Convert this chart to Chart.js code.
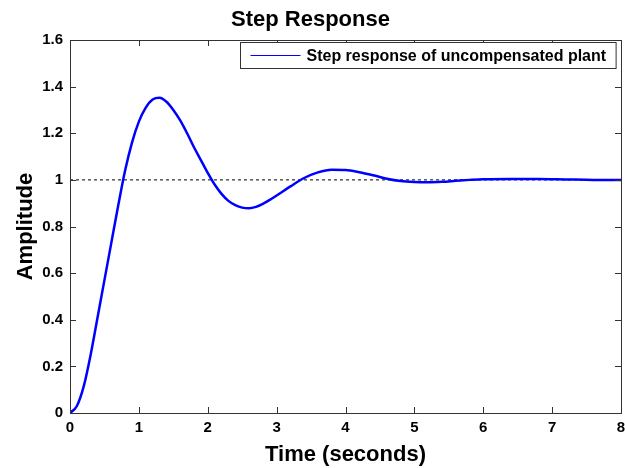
<!DOCTYPE html>
<html>
<head>
<meta charset="utf-8">
<script src="https://cdn.jsdelivr.net/npm/chart.js@4"></script>
<style>
  html, body { margin: 0; padding: 0; background: #fff; }
  #wrap { width: 625px; height: 468px; }
</style>
</head>
<body>
<div id="wrap"><canvas id="chart" width="625" height="468"></canvas></div>
<script>
'use strict';
// ---------- Step response of uncompensated plant ----------

const timeSec = [0, 0.1, 0.2, 0.3, 0.4, 0.5, 0.6, 0.7, 0.8, 0.9, 1.0, 1.1, 1.2, 1.3, 1.4,
                 1.5, 1.6, 1.7, 1.8, 1.9, 2.0, 2.1, 2.2, 2.3, 2.4, 2.5, 2.6, 2.7, 2.8, 2.9,
                 3.0, 3.2, 3.4, 3.6, 3.8, 4.0, 4.2, 4.4, 4.6, 4.8, 5.0, 5.2, 5.4, 5.6, 5.8,
                 6.0, 6.4, 6.8, 7.2, 7.6, 8.0];
const amplitude = [0, 0.03, 0.115, 0.25, 0.41, 0.57, 0.73, 0.89, 1.04, 1.16, 1.25, 1.31, 1.345, 1.352, 1.335,
                   1.3, 1.255, 1.2, 1.14, 1.085, 1.03, 0.98, 0.94, 0.91, 0.892, 0.881, 0.878, 0.884, 0.897, 0.914,
                   0.933, 0.972, 1.008, 1.032, 1.043, 1.042, 1.033, 1.02, 1.005, 0.995, 0.991, 0.99, 0.992, 0.996, 1.0,
                   1.003, 1.004, 1.004, 1.002, 1.0, 1.0];

const refTime  = [0, 8];
const refLevel = [1, 1];

const seriesLabel = 'Step response of uncompensated plant';
const FONT = '"Liberation Sans", Arial, sans-serif';
const AXIS = '#333333';

const toPts = (xs, ys) => xs.map((x, i) => ({ x, y: ys[i] }));
const fmtTick = v => String(Number(v.toFixed(1)));

// MATLAB-style frame: box round the axes, ticks pointing inward on all sides
const framePlugin = {
    id: 'frame',
    afterDatasetsDraw(chart) {
        const { ctx, chartArea: a, scales } = chart;
        ctx.save();
        ctx.strokeStyle = AXIS;
        ctx.lineWidth = 1;
        ctx.beginPath();
        const len = 6;
        scales.x.ticks.forEach(t => {
            const px = Math.round(scales.x.getPixelForValue(t.value)) + 0.5;
            ctx.moveTo(px, a.bottom); ctx.lineTo(px, a.bottom - len);
            ctx.moveTo(px, a.top);    ctx.lineTo(px, a.top + len);
        });
        scales.y.ticks.forEach(t => {
            const py = Math.round(scales.y.getPixelForValue(t.value)) + 0.5;
            ctx.moveTo(a.left, py);  ctx.lineTo(a.left + len, py);
            ctx.moveTo(a.right, py); ctx.lineTo(a.right - len, py);
        });
        ctx.stroke();
        ctx.strokeRect(Math.round(a.left) + 0.5, Math.round(a.top) + 0.5,
                       Math.round(a.right - a.left), Math.round(a.bottom - a.top));
        ctx.restore();
    },
};

// Boxed legend inside the top-right corner of the axes
const boxLegendPlugin = {
    id: 'boxLegend',
    afterDraw(chart) {
        const { ctx, chartArea: a } = chart;
        const ds = chart.data.datasets[0];
        ctx.save();
        ctx.font = 'bold 16px ' + FONT;
        const tw = ctx.measureText(ds.label).width;
        const w = 10 + 50 + 6 + tw + 10;
        const h = 26;
        const x0 = Math.round(a.right - 5 - w) + 0.5;
        const y0 = Math.round(a.top + 2) + 0.5;
        ctx.fillStyle = '#fff';
        ctx.fillRect(x0, y0, w, h);
        ctx.strokeStyle = AXIS;
        ctx.lineWidth = 1;
        ctx.strokeRect(x0, y0, w, h);
        const my = y0 + h / 2;
        ctx.strokeStyle = ds.borderColor;
        ctx.beginPath();
        ctx.moveTo(x0 + 10, my); ctx.lineTo(x0 + 60, my);
        ctx.stroke();
        ctx.fillStyle = '#000';
        ctx.textBaseline = 'middle';
        ctx.fillText(ds.label, x0 + 66, my + 1);
        ctx.restore();
    },
};

new Chart(document.getElementById('chart'), {
    type: 'line',
    data: {
        datasets: [
            {
                label: seriesLabel,
                data: toPts(timeSec, amplitude),
                borderColor: '#0000ff',
                borderWidth: 2.5,
                pointRadius: 0,
                cubicInterpolationMode: 'monotone',
                fill: false,
            },
            {
                label: 'reference',
                data: toPts(refTime, refLevel),
                borderColor: '#000000',
                borderWidth: 1,
                borderDash: [3, 3],
                pointRadius: 0,
                fill: false,
            },
        ],
    },
    options: {
        responsive: false,
        animation: false,
        layout: { padding: { left: 0, right: 4, top: 0, bottom: 0 } },
        plugins: {
            legend: { display: false },
            tooltip: { enabled: false },
            title: {
                display: true,
                text: 'Step Response',
                color: '#000',
                font: { family: FONT, size: 22, weight: 'bold', lineHeight: 1.2 },
                padding: { top: 7, bottom: 6.6 },
            },
        },
        scales: {
            x: {
                type: 'linear',
                min: 0, max: 8,
                afterFit: s => { s.height = 55; s.paddingLeft = 0; s.paddingRight = 0; },
                grid: { display: false, drawTicks: false },
                border: { display: true, color: AXIS },
                ticks: {
                    stepSize: 1,
                    padding: 6,
                    color: '#000',
                    maxRotation: 0,
                    font: { family: FONT, size: 15, weight: 'bold' },
                },
                title: {
                    display: true,
                    text: 'Time (seconds)',
                    color: '#000',
                    font: { family: FONT, size: 22, weight: 'bold', lineHeight: 1.2 },
                    padding: { top: 1, bottom: 0 },
                },
            },
            y: {
                min: 0, max: 1.6,
                afterFit: s => { s.width = 70; },
                grid: { display: false, drawTicks: false },
                border: { display: true, color: AXIS },
                ticks: {
                    stepSize: 0.2,
                    padding: 7,
                    color: '#000',
                    callback: fmtTick,
                    font: { family: FONT, size: 15, weight: 'bold' },
                },
                title: {
                    display: true,
                    text: 'Amplitude',
                    color: '#000',
                    font: { family: FONT, size: 22, weight: 'bold', lineHeight: 1.2 },
                    padding: { top: 13, bottom: 0 },
                },
            },
        },
    },
    plugins: [framePlugin, boxLegendPlugin],
});
</script>
</body>
</html>
